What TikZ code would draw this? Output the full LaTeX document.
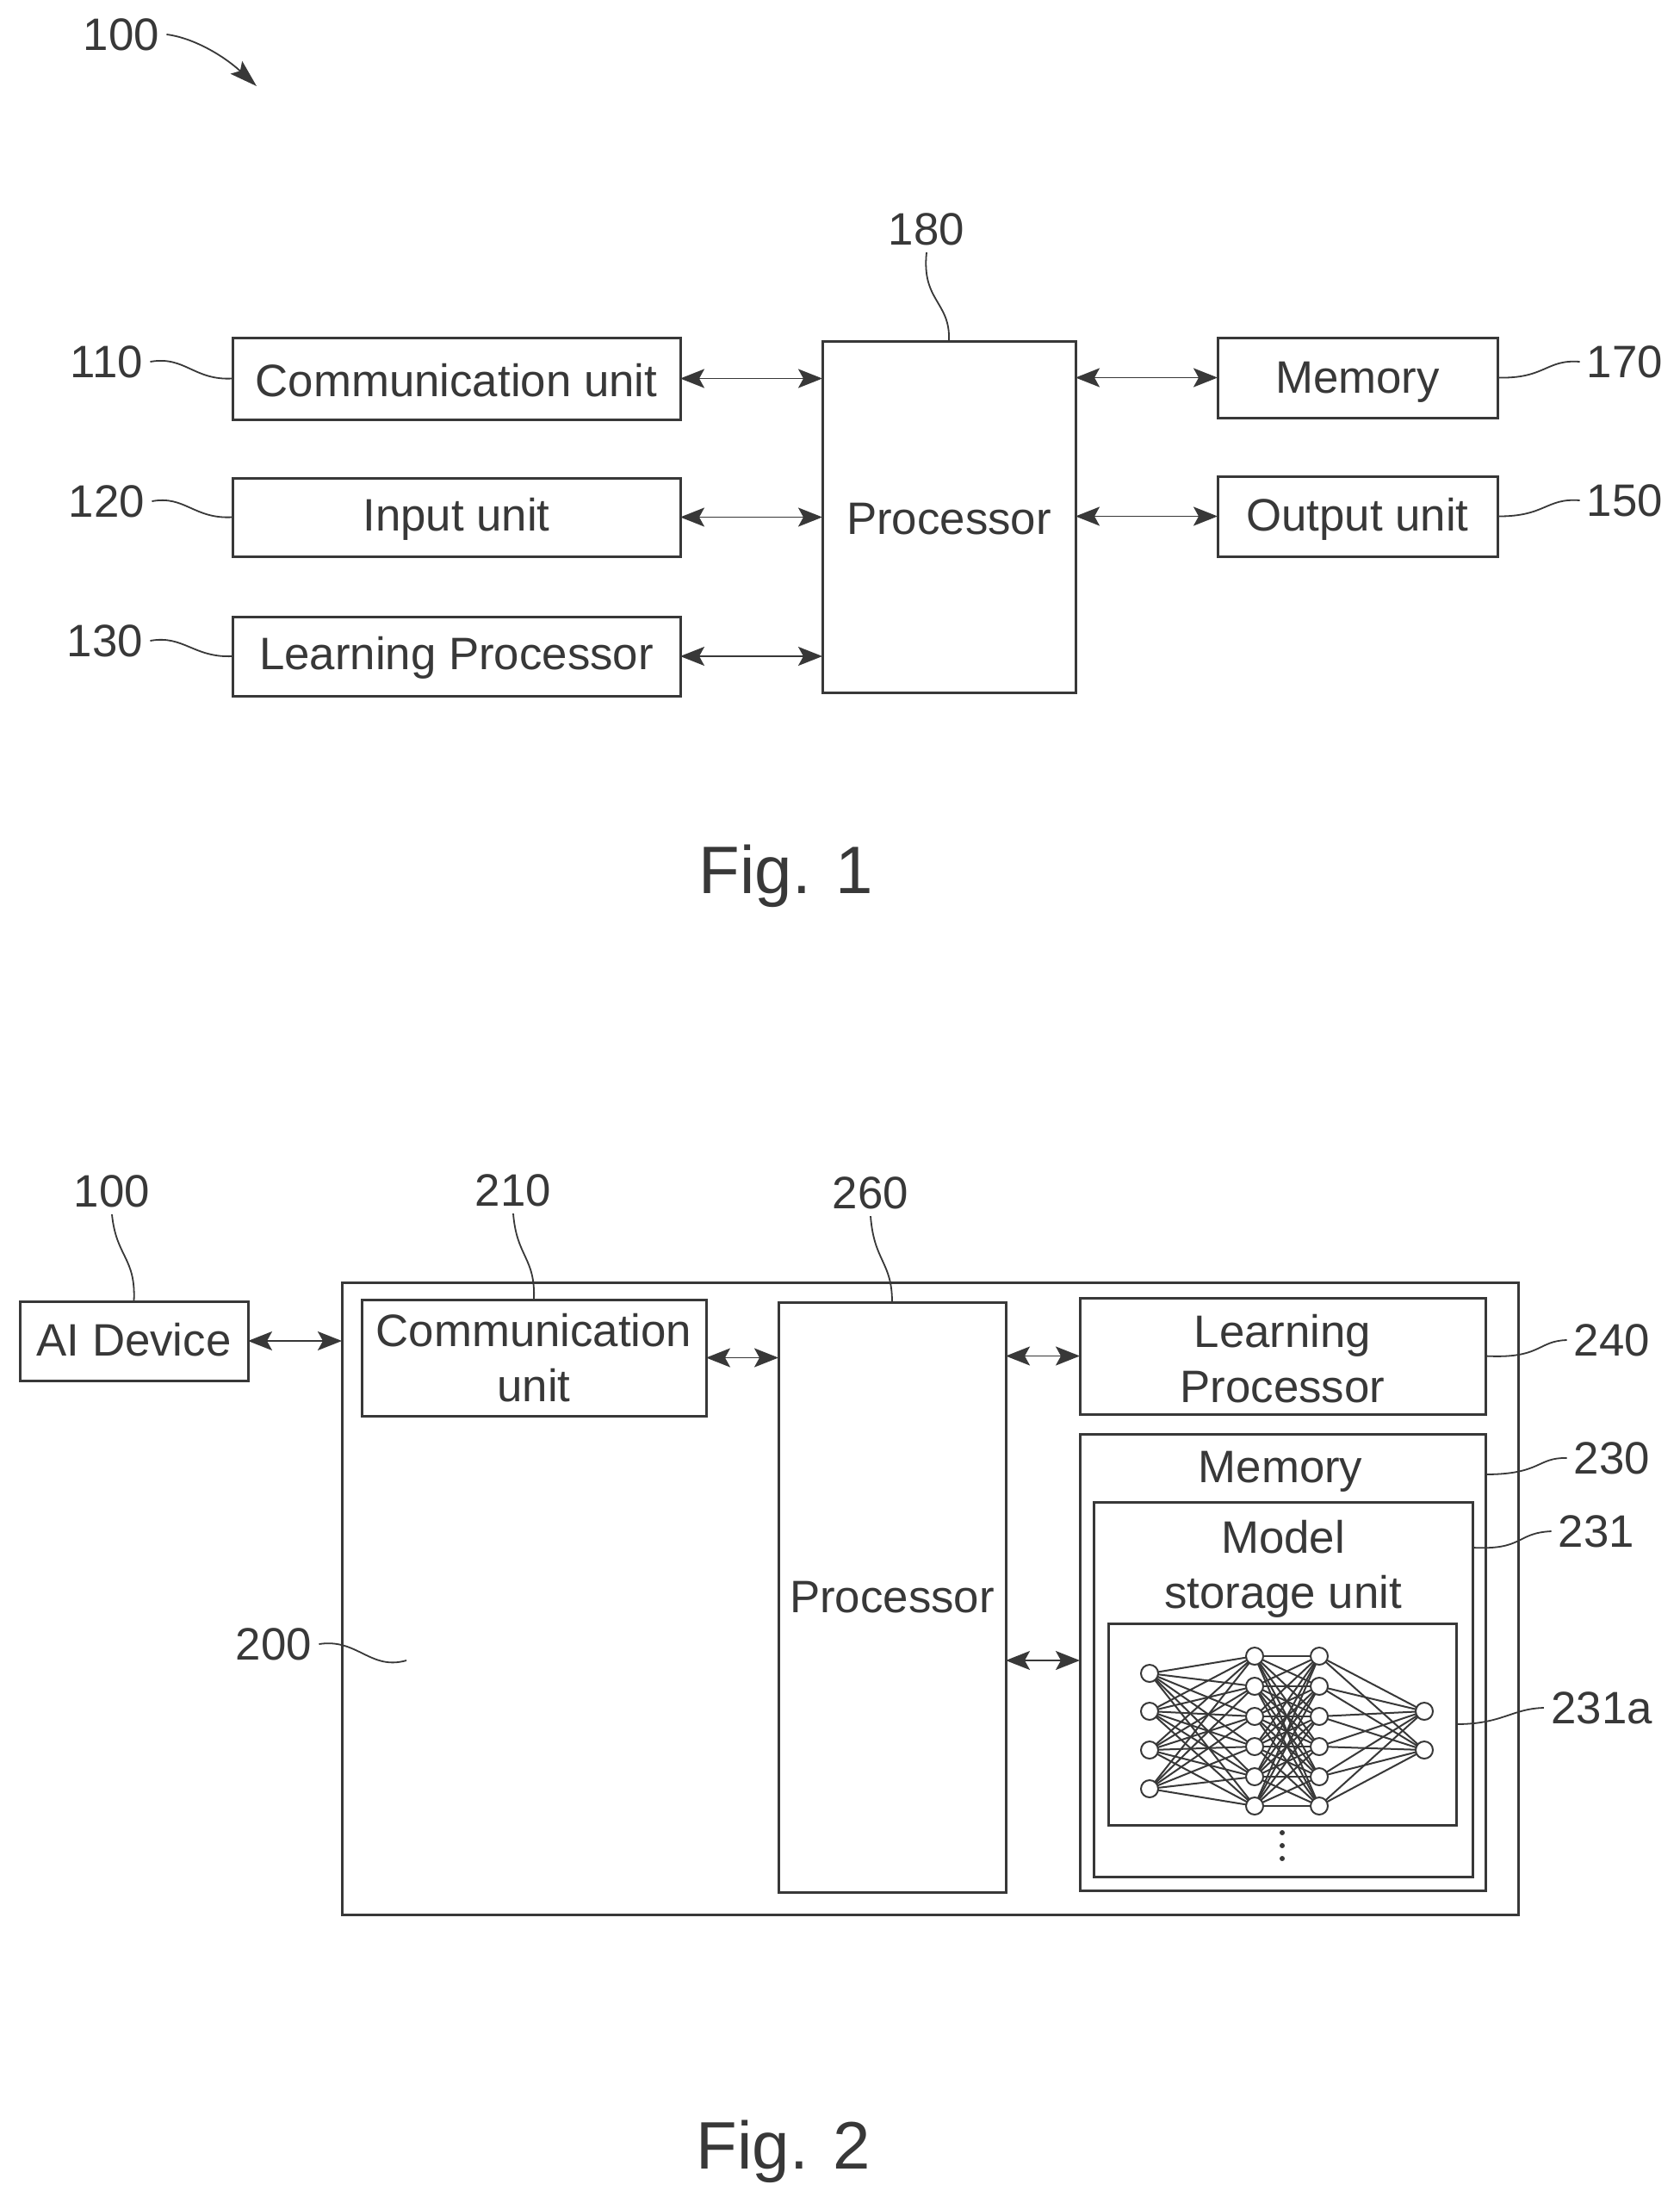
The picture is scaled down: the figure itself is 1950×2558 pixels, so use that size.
\documentclass[tikz,border=0pt]{standalone}
\usepackage{fontspec}
\setmainfont{Liberation Sans}
\usetikzlibrary{arrows.meta,calc}
\definecolor{ink}{gray}{0.22}
\tikzset{
  boxn/.style={draw=ink,line width=1.5pt,inner sep=0pt,outer sep=0pt},
  txt/.style={text=ink,inner sep=0pt,align=center,font=\fontsize{26.4}{32}\selectfont},
  reflab/.style={text=ink,inner sep=4pt,font=\fontsize{26.4}{32}\selectfont},
  figlab/.style={text=ink,inner sep=0pt,font=\fontsize{39}{44}\selectfont},
  biarrow/.style={draw=ink,line width=0.9pt,{Stealth[length=14pt,width=11pt,inset=3pt]}-{Stealth[length=14pt,width=11pt,inset=3pt]}},
  leader/.style={draw=ink,line width=0.9pt},
  tip/.style={draw=ink,line width=0.9pt,-{Stealth[length=16pt,width=10pt,inset=3pt]}},
  nn/.style={circle,draw=ink,line width=1pt,minimum size=10pt,inner sep=0pt,outer sep=0pt},
  nnedge/.style={draw=ink,line width=1pt},
  dotn/.style={circle,fill=ink,minimum size=3pt,inner sep=0pt,outer sep=0pt},
}
\newcommand{\boxnode}[7]{%
  \pgfmathsetmacro{\bw}{(#4-#2)*0.5}%
  \pgfmathsetmacro{\bh}{(#5-#3)*0.5}%
  \node[boxn,minimum width=\bw pt,minimum height=\bh pt] (#1) at ({(#2+#4)/2},{(#3+#5)/2}) {};%
  \node[txt,yshift=#7] (#1t) at (#1.center) {#6};%
}
\begin{document}
\begin{tikzpicture}[x=0.5pt,y=-0.5pt]
\useasboundingbox (0,0) rectangle (1950,2558);
\fill[white] (0,0) rectangle (1950,2558);
% --- Fig. 1
\boxnode{comm}{270}{392}{790}{487}{Communication unit}{-1pt}
\boxnode{inp}{270}{555}{790}{646}{Input unit}{-1pt}
\boxnode{lrn}{270}{716}{790}{808}{Learning Processor}{-0.8pt}
\boxnode{proc}{955}{396}{1249}{804}{Processor}{-1.5pt}
\boxnode{mem}{1414}{392}{1739}{485}{Memory}{-2.5pt}
\boxnode{out}{1414}{553}{1739}{646}{Output unit}{-1.5pt}
\draw[biarrow] (comm.east) -- (comm.east -| proc.west);
\draw[biarrow] (inp.east) -- (inp.east -| proc.west);
\draw[biarrow] (lrn.east) -- (lrn.east -| proc.west);
\draw[biarrow] (mem.west -| proc.east) -- (mem.west);
\draw[biarrow] (out.west -| proc.east) -- (out.west);
\node[reflab] (t100) at (141,40) {100};
\coordinate (t100tip) at (298,100);
\draw[tip] (t100.east) .. controls (225,44) and (260,65) .. (t100tip);
\node[reflab] (l110) at (124,420) {110};
\node[reflab] (l120) at (124,582) {120};
\node[reflab] (l130) at (122,744) {130};
\node[reflab] (l180) at (1076,266) {180};
\node[reflab] (l170) at (1887,420) {170};
\node[reflab] (l150) at (1887,581) {150};
\draw[leader] (l110.east) .. controls (215,413) and (225,442) .. (comm.west);
\draw[leader] (l120.east) .. controls (215,575) and (225,603) .. (inp.west);
\draw[leader] (l130.east) .. controls (213,737) and (225,764) .. (lrn.west);
\draw[leader] (l180.south) .. controls (1070,350) and (1104,350) .. (proc.north);
\draw[leader] (mem.east) .. controls (1795,440) and (1795,417) .. (l170.west);
\draw[leader] (out.east) .. controls (1795,600) and (1795,578) .. (l150.west);
\node[figlab] (fig1) at (913,1017) {Fig. 1};
% --- Fig. 2
\boxnode{ai}{23}{1511}{288}{1603}{AI Device}{0.5pt}
\boxnode{srv}{397}{1489}{1763}{2223}{}{0pt}
\boxnode{comb}{420}{1509}{820}{1644}{Communication\\unit}{-0.3pt}
\boxnode{prb}{904}{1512}{1168}{2197}{Processor}{0pt}
\boxnode{lrb}{1254}{1507}{1725}{1642}{Learning\\Processor}{-1.5pt}
\boxnode{memb}{1254}{1665}{1725}{2195}{}{0pt}
\boxnode{mdl}{1270}{1744}{1710}{2179}{}{0pt}
\boxnode{nnb}{1287}{1885}{1691}{2119}{}{0pt}
\node[txt] (memt) at (1487,1709) {Memory};
\node[txt] (mdlt) at (1490,1822) {Model\\storage unit};
\draw[biarrow] (ai.east) -- (ai.east -| srv.west);
\draw[biarrow] (comb.east) -- (comb.east -| prb.west);
\draw[biarrow] (lrb.west -| prb.east) -- (lrb.west);
\coordinate (mema) at (1254,1928);
\draw[biarrow] (mema -| prb.east) -- (mema);
\node[reflab] (l100) at (130,1383) {100};
\node[reflab] (l210) at (596,1382) {210};
\node[reflab] (l260) at (1011,1385) {260};
\node[reflab] (l200) at (318,1909) {200};
\node[reflab] (l240) at (1872,1556) {240};
\node[reflab] (l230) at (1872,1693) {230};
\node[reflab] (l231) at (1854,1778) {231};
\node[reflab] (l231a) at (1860,1983) {231a};
\coordinate (e200) at (472,1928);
\draw[leader] (l100.south) .. controls (135,1460) and (158,1460) .. (ai.north);
\draw[leader] (l210.south) .. controls (600,1460) and (622,1460) .. (comb.north);
\draw[leader] (l260.south) .. controls (1015,1465) and (1036,1465) .. (prb.north);
\draw[leader] (l200.east) .. controls (415,1902) and (430,1940) .. (e200);
\draw[leader] (lrb.east) .. controls (1790,1578) and (1785,1557) .. (l240.west);
\draw[leader] (memb.east |- 0,1712) .. controls (1790,1712) and (1785,1692) .. (l230.west);
\draw[leader] (mdl.east |- 0,1797) .. controls (1770,1800) and (1760,1780) .. (l231.west);
\draw[leader] (nnb.east |- 0,2002) .. controls (1745,2002) and (1755,1984) .. (l231a.west);
% neural network
\foreach \y [count=\i] in {1943,1987,2032,2077} \node[nn] (a\i) at (1335,\y) {};
\foreach \y [count=\i] in {1923,1958,1993,2028,2063,2097} \node[nn] (b\i) at (1457,\y) {};
\foreach \y [count=\i] in {1923,1958,1993,2028,2063,2097} \node[nn] (c\i) at (1532,\y) {};
\foreach \y [count=\i] in {1987,2032} \node[nn] (d\i) at (1654,\y) {};
\foreach \i in {1,...,4} \foreach \j in {1,...,6} \draw[nnedge] (a\i) -- (b\j);
\foreach \i in {1,...,6} \foreach \j in {1,...,6} \draw[nnedge] (b\i) -- (c\j);
\foreach \i in {1,...,6} \foreach \j in {1,2} \draw[nnedge] (c\i) -- (d\j);
\node[dotn] (dot1) at (1489,2128) {};
\node[dotn] (dot2) at (1489,2143) {};
\node[dotn] (dot3) at (1489,2158) {};
\node[figlab] (fig2) at (910,2498) {Fig. 2};
\end{tikzpicture}
\end{document}
